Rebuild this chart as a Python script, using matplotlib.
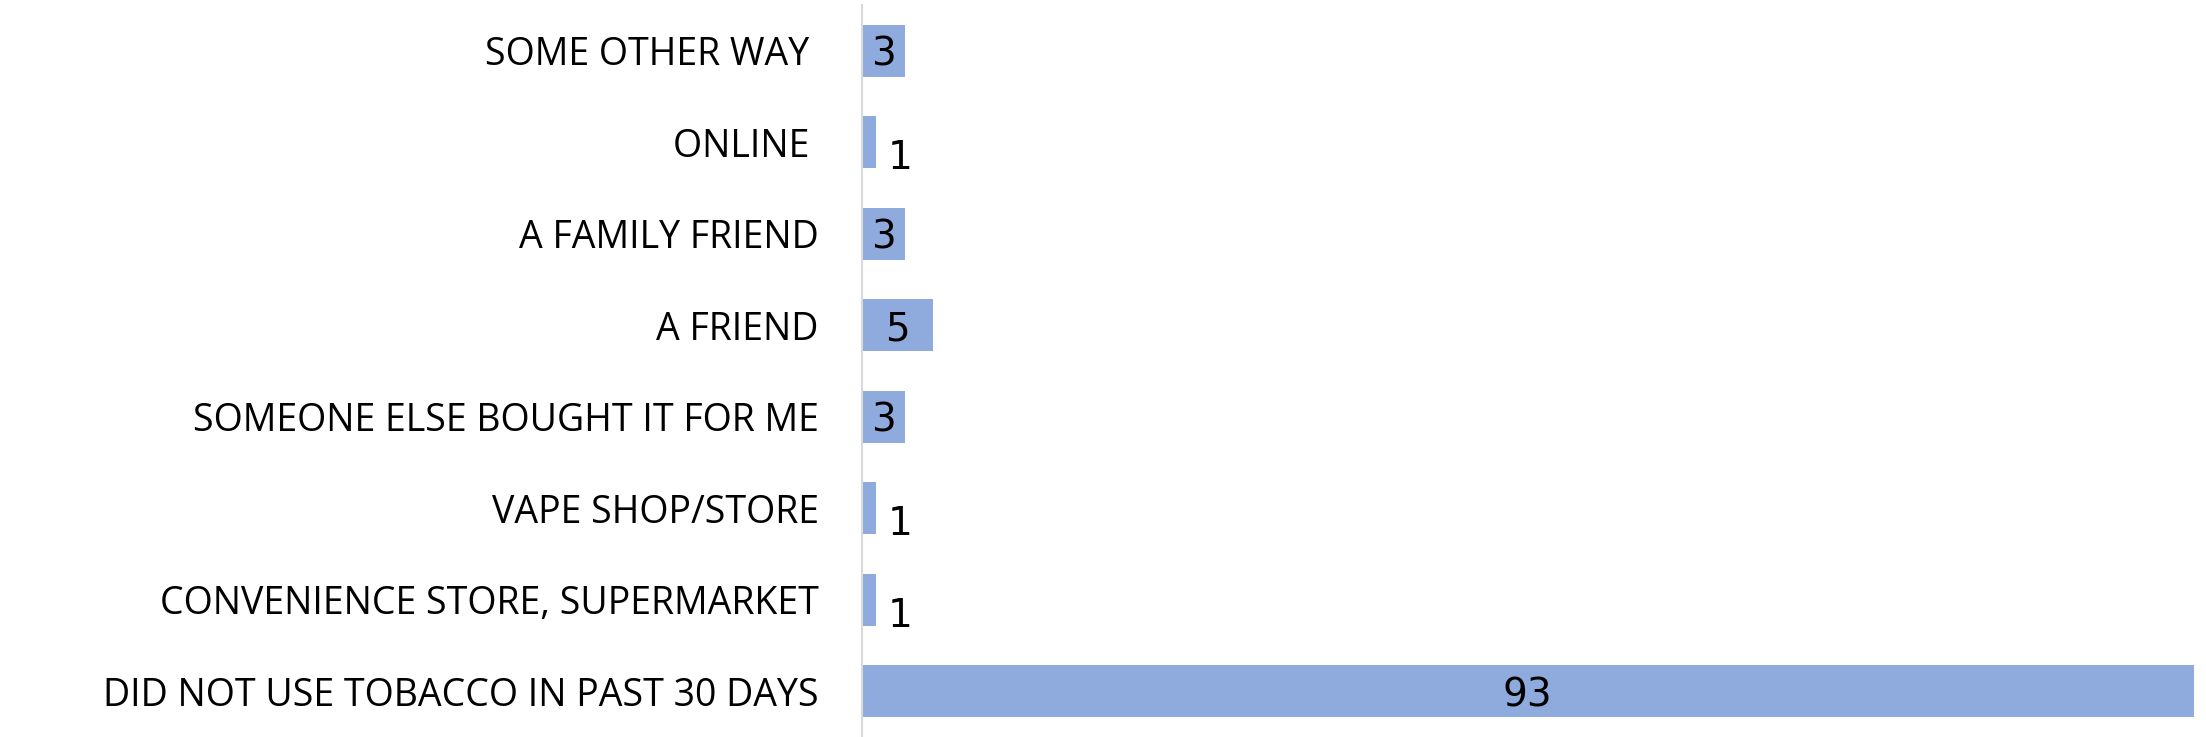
import matplotlib
matplotlib.use("Agg")
import matplotlib.pyplot as plt

# --------------------- DATA
categories = [
    "DID NOT USE TOBACCO IN PAST 30 DAYS",
    "CONVENIENCE STORE, SUPERMARKET",
    "VAPE SHOP/STORE",
    "SOMEONE ELSE BOUGHT IT FOR ME",
    "A FRIEND",
    "A FAMILY FRIEND",
    "ONLINE ",
    "SOME OTHER WAY ",
]
values = [93, 1, 1, 3, 5, 3, 1, 3]

bar_color = "#8FAADC"

# --------------------- PLOT
fig = plt.figure(figsize=(22.06, 7.37), dpi=100)
ax = fig.add_axes([0.3907, 0.0, 0.6056, 0.993])

pos = list(range(len(categories)))
ax.barh(pos, values, height=0.57, color=bar_color)
ax.set_ylim(-0.5, 7.5)
ax.set_xlim(0, 93.3)

ax.set_yticks(pos)
ax.set_yticklabels(categories, family="Open Sans", fontsize=27)
ax.tick_params(axis="y", length=0, pad=31)
ax.set_xticks([])

for s in ["top", "right", "bottom"]:
    ax.spines[s].set_visible(False)
ax.spines["left"].set_color("#D9D9D9")
ax.spines["left"].set_linewidth(1.5)

# value labels: inside for wider bars, outside for the thin ones
for p, v in zip(pos, values):
    if v >= 3:
        fam = ["Liberation Sans Narrow", "DejaVu Sans"] if v > 50 else "DejaVu Sans"
        ax.text(v / 2, p, str(v), ha="center", va="center_baseline", fontsize=28,
                family=fam, color="black")
    else:
        ax.text(v + 1.7, p - 0.13, str(v), ha="center", va="center_baseline",
                fontsize=28, family="DejaVu Sans", color="black")

fig.savefig("out.png", dpi=100)
